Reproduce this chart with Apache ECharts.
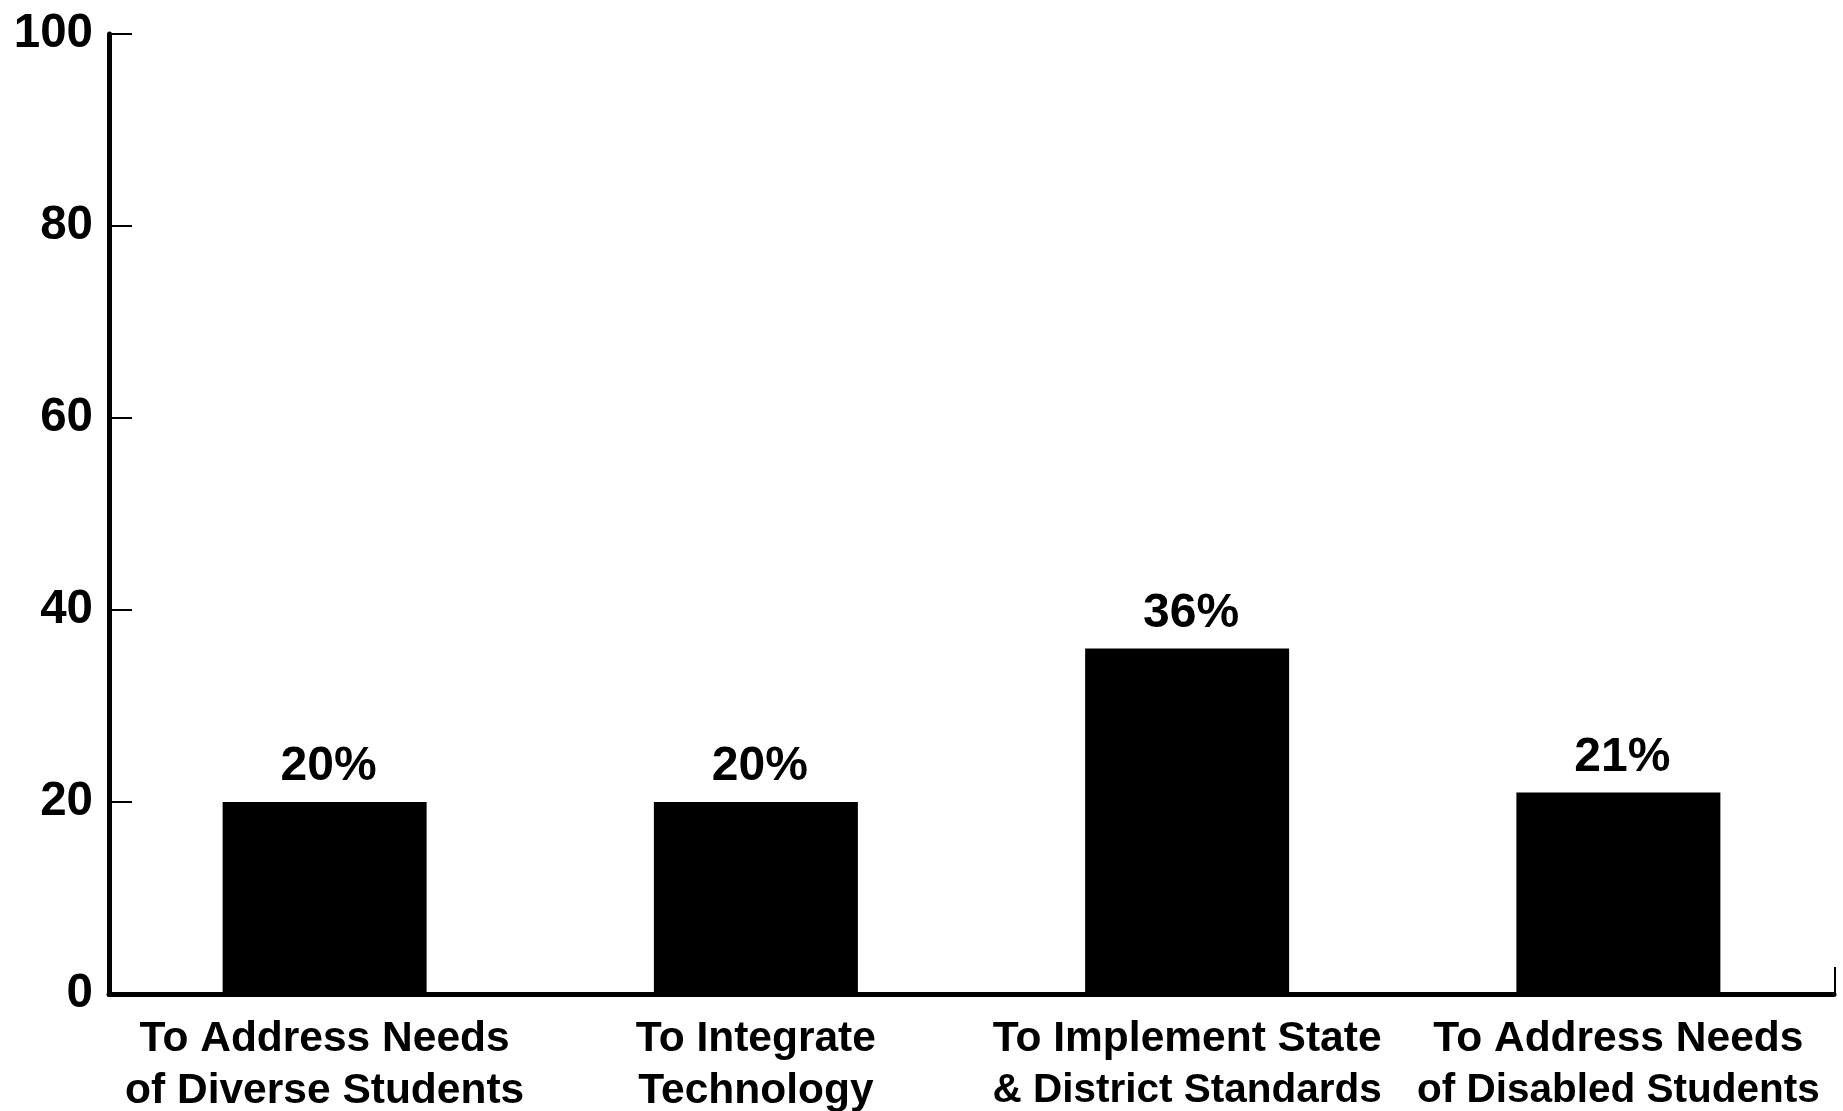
<!DOCTYPE html>
<html>
<head>
<meta charset="utf-8">
<title>Reasons for Professional Development</title>
<script src="https://cdn.jsdelivr.net/npm/echarts@6/dist/echarts.min.js"></script>
<style>
  html, body { margin: 0; padding: 0; background: #ffffff; }
  #chart { width: 1843px; height: 1111px; }
</style>
</head>
<body>
<div id="chart"></div>
<script>
// Categories, shown as two-line axis labels
const categories = [
  'To Address Needs\nof Diverse Students',
  'To Integrate\nTechnology',
  'To Implement State\n& District Standards',
  'To Address Needs\nof Disabled Students'
];

// Percent of teachers for each purpose
const percentValues = [20, 20, 36, 21];

// Value axis ticks
const yTicks = [0, 20, 40, 60, 80, 100];

const FONT = '"Liberation Sans", Arial, Helvetica, sans-serif';
const GRID = { left: 109, right: 9, top: 34, bottom: 117 };
// lines longer than this are set a little tighter so they stay inside their band
const LONG_LINE = 19;

const chart = echarts.init(document.getElementById('chart'), null, { renderer: 'canvas' });

const labelLine = { color: '#000', fontFamily: FONT, fontWeight: 'bold', lineHeight: 52 };

const option = {
  backgroundColor: '#ffffff',
  animation: false,
  grid: {
    left: GRID.left, right: GRID.right, top: GRID.top, bottom: GRID.bottom,
    containLabel: false,
    outerBoundsMode: 'none'
  },
  xAxis: {
    type: 'category',
    data: categories,
    boundaryGap: true,
    axisLine: { show: true, lineStyle: { color: '#000', width: 5 } },
    axisTick: { show: false },
    axisLabel: {
      color: '#000',
      fontFamily: FONT,
      fontWeight: 'bold',
      fontSize: 42.5,
      lineHeight: 52,
      margin: 19,
      interval: 0,
      formatter: value => value.split('\n')
        .map(line => (line.length > LONG_LINE ? '{n|' : '{w|') + line + '}')
        .join('\n'),
      rich: {
        w: Object.assign({ fontSize: 42.5 }, labelLine),
        n: Object.assign({ fontSize: 40.5 }, labelLine)
      }
    },
    splitLine: { show: false }
  },
  yAxis: {
    type: 'value',
    min: yTicks[0],
    max: yTicks[yTicks.length - 1],
    interval: yTicks[1] - yTicks[0],
    axisLine: { show: true, lineStyle: { color: '#000', width: 5 } },
    axisTick: { show: true, inside: true, length: 23, lineStyle: { color: '#000', width: 2 } },
    axisLabel: {
      color: '#000',
      fontFamily: FONT,
      fontWeight: 'bold',
      fontSize: 47.5,
      margin: 16,
      padding: [0, 0, 13, 0]
    },
    splitLine: { show: false }
  },
  series: [{
    type: 'bar',
    data: percentValues,
    barWidth: 204,
    itemStyle: { color: '#000' },
    label: {
      show: true,
      position: 'top',
      distance: 11,
      offset: [4, 0],
      color: '#000',
      fontFamily: FONT,
      fontWeight: 'bold',
      fontSize: 48,
      formatter: p => p.value + '%'
    }
  }],
  graphic: [{
    // short upright tick closing the right end of the category axis
    type: 'line',
    shape: {
      x1: 1843 - GRID.right + 1, y1: 1111 - GRID.bottom - 27,
      x2: 1843 - GRID.right + 1, y2: 1111 - GRID.bottom
    },
    style: { stroke: '#000', lineWidth: 2 }
  }]
};

chart.setOption(option);
</script>
</body>
</html>
